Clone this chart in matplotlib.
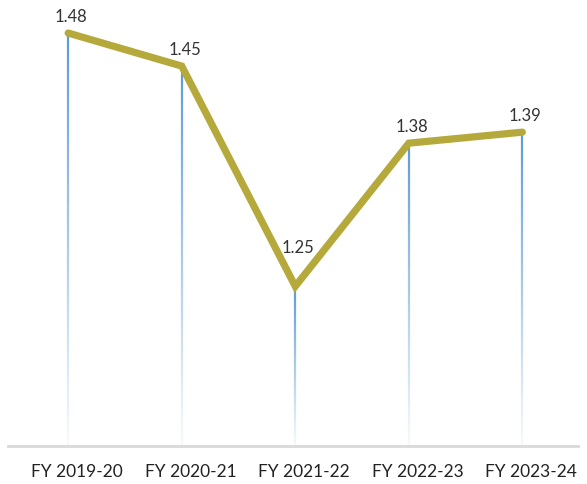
import numpy as np
import matplotlib.pyplot as plt
import matplotlib.transforms as mtransforms
from matplotlib.collections import LineCollection

# ---- data ----
years = ["FY 2019-20", "FY 2020-21", "FY 2021-22", "FY 2022-23", "FY 2023-24"]
values = [1.48, 1.45, 1.25, 1.38, 1.39]

plt.rcParams['font.family'] = ['Lato', 'DejaVu Sans']

fig = plt.figure(figsize=(5.87, 4.84), dpi=100)
ax = fig.add_axes([8/587, 38/484, 570/587, 446/484])

x = np.arange(len(years))
ybot, ytop = 1.105, 1.51

# drop lines fading from blue to white towards the bottom
n = 60
for xi, v in zip(x, values):
    ys = np.linspace(v, ybot, n + 1)
    segs = [[(xi, ys[i]), (xi, ys[i + 1])] for i in range(n)]
    alphas = np.linspace(1.0, 0.05, n)
    cols = [(0.36, 0.61, 0.84, a) for a in alphas]
    ax.add_collection(LineCollection(segs, colors=cols, linewidths=1.6, zorder=1))

ax.plot(x, values, color="#B5A93B", lw=5.2, solid_joinstyle="miter",
        solid_capstyle="round", zorder=3)

for i, v in enumerate(values):
    is_min = 0 < i < len(values) - 1 and v < values[i - 1] and v < values[i + 1]
    dy = 22 if is_min else 6
    ax.annotate(f"{v:.2f}", (i, v), xytext=(2, dy), textcoords="offset points",
                ha="center", va="bottom", fontsize=12, color="#333333", zorder=4)

ax.set_xlim(-0.53, 4.49)
ax.set_ylim(ybot, ytop)
ax.set_xticks(x)
ax.set_xticklabels(years, fontsize=12.5, color="#222222")
ax.tick_params(axis="x", length=0, pad=13)
shift = mtransforms.ScaledTranslation(9/100, 0, fig.dpi_scale_trans)
for lbl in ax.get_xticklabels():
    lbl.set_transform(lbl.get_transform() + shift)
ax.set_yticks([])
for s in ["top", "left", "right"]:
    ax.spines[s].set_visible(False)
ax.spines["bottom"].set_color("#d9d9d9")
ax.spines["bottom"].set_linewidth(2)

fig.savefig("out.png", dpi=100)
